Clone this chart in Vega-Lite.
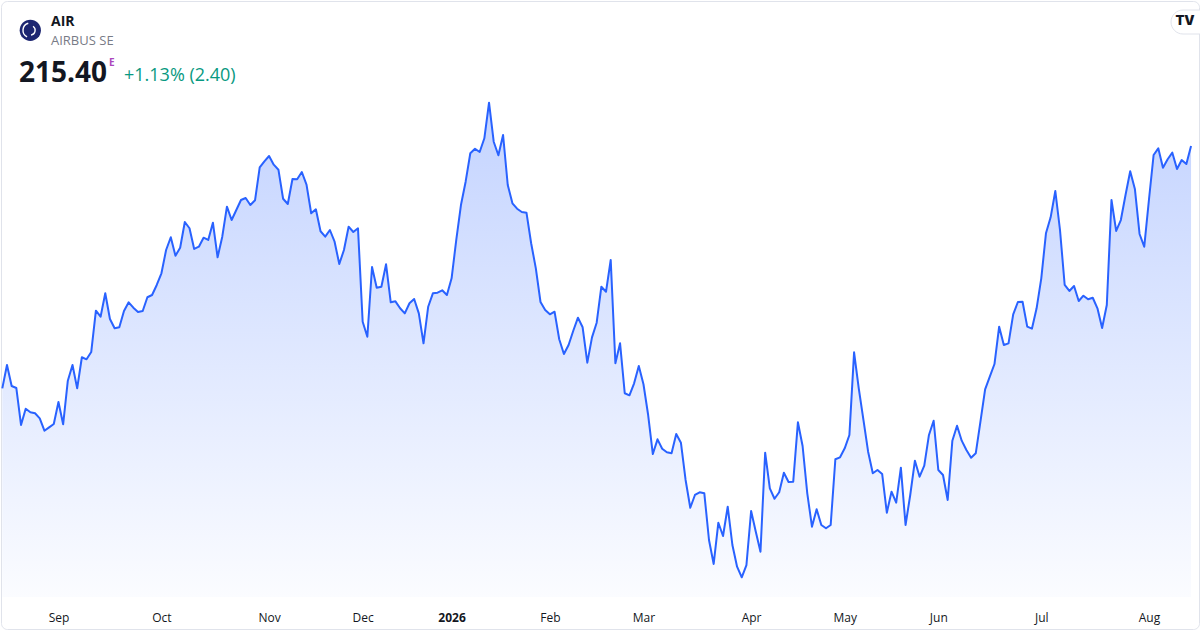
{
  "$schema": "https://vega.github.io/schema/vega-lite/v6.json",
  "width": 1198,
  "height": 628,
  "autosize": {"type": "none"},
  "padding": {"left": 1, "top": 1, "right": 1, "bottom": 1},
  "background": "#ffffff",
  "config": {
    "font": "Open Sans",
    "view": {"stroke": "#e0e3eb", "strokeWidth": 1, "cornerRadius": 6}
  },
  "datasets": {
    "air": [
      {"i":0,"close":183.09},{"i":1,"close":186.20},{"i":2,"close":183.40},{"i":3,"close":183.13},{"i":4,"close":178.20},
      {"i":5,"close":180.37},{"i":6,"close":179.89},{"i":7,"close":179.76},{"i":8,"close":179.09},{"i":9,"close":177.44},
      {"i":10,"close":177.89},{"i":11,"close":178.33},{"i":12,"close":181.27},{"i":13,"close":178.29},{"i":14,"close":184.11},
      {"i":15,"close":186.20},{"i":16,"close":183.09},{"i":17,"close":187.23},{"i":18,"close":186.96},{"i":19,"close":187.93},
      {"i":20,"close":193.44},{"i":21,"close":192.64},{"i":22,"close":195.76},{"i":23,"close":192.33},{"i":24,"close":191.09},
      {"i":25,"close":191.23},{"i":26,"close":193.40},{"i":27,"close":194.56},{"i":28,"close":193.84},{"i":29,"close":193.27},
      {"i":30,"close":193.40},{"i":31,"close":195.23},{"i":32,"close":195.53},{"i":33,"close":196.87},{"i":34,"close":198.43},
      {"i":35,"close":201.53},{"i":36,"close":203.23},{"i":37,"close":200.77},{"i":38,"close":201.84},{"i":39,"close":205.27},
      {"i":40,"close":204.43},{"i":41,"close":201.67},{"i":42,"close":201.97},{"i":43,"close":203.17},{"i":44,"close":202.87},
      {"i":45,"close":205.17},{"i":46,"close":200.56},{"i":47,"close":203.31},{"i":48,"close":207.31},{"i":49,"close":205.53},
      {"i":50,"close":206.87},{"i":51,"close":208.20},{"i":52,"close":208.47},{"i":53,"close":207.53},{"i":54,"close":208.16},
      {"i":55,"close":212.56},{"i":56,"close":213.36},{"i":57,"close":214.07},{"i":58,"close":212.91},{"i":59,"close":212.24},
      {"i":60,"close":208.37},{"i":61,"close":207.67},{"i":62,"close":211.00},{"i":63,"close":210.96},{"i":64,"close":211.93},
      {"i":65,"close":210.24},{"i":66,"close":206.43},{"i":67,"close":206.96},{"i":68,"close":204.03},{"i":69,"close":203.31},
      {"i":70,"close":204.20},{"i":71,"close":202.64},{"i":72,"close":199.67},{"i":73,"close":201.53},{"i":74,"close":204.64},
      {"i":75,"close":203.93},{"i":76,"close":204.43},{"i":77,"close":191.97},{"i":78,"close":189.97},{"i":79,"close":199.27},
      {"i":80,"close":196.51},{"i":81,"close":196.64},{"i":82,"close":199.63},{"i":83,"close":194.56},{"i":84,"close":194.69},
      {"i":85,"close":193.76},{"i":86,"close":193.09},{"i":87,"close":194.43},{"i":88,"close":195.00},{"i":89,"close":193.09},
      {"i":90,"close":189.09},{"i":91,"close":193.97},{"i":92,"close":195.76},{"i":93,"close":195.84},{"i":94,"close":196.16},
      {"i":95,"close":195.53},{"i":96,"close":197.76},{"i":97,"close":202.87},{"i":98,"close":207.53},{"i":99,"close":210.64},
      {"i":100,"close":214.43},{"i":101,"close":215.04},{"i":102,"close":214.60},{"i":103,"close":216.43},{"i":104,"close":221.17},
      {"i":105,"close":215.97},{"i":106,"close":214.16},{"i":107,"close":216.87},{"i":108,"close":210.20},{"i":109,"close":207.76},
      {"i":110,"close":207.04},{"i":111,"close":206.60},{"i":112,"close":206.51},{"i":113,"close":202.43},{"i":114,"close":199.09},
      {"i":115,"close":194.60},{"i":116,"close":193.53},{"i":117,"close":192.96},{"i":118,"close":193.31},{"i":119,"close":189.63},
      {"i":120,"close":187.67},{"i":121,"close":188.87},{"i":122,"close":190.77},{"i":123,"close":192.51},{"i":124,"close":191.23},
      {"i":125,"close":186.51},{"i":126,"close":189.89},{"i":127,"close":191.84},{"i":128,"close":196.64},{"i":129,"close":195.97},
      {"i":130,"close":200.20},{"i":131,"close":186.43},{"i":132,"close":189.09},{"i":133,"close":182.43},{"i":134,"close":182.16},
      {"i":135,"close":183.76},{"i":136,"close":186.07},{"i":137,"close":183.63},{"i":138,"close":179.53},{"i":139,"close":174.33},
      {"i":140,"close":176.29},{"i":141,"close":175.04},{"i":142,"close":174.56},{"i":143,"close":174.43},{"i":144,"close":177.00},
      {"i":145,"close":175.84},{"i":146,"close":170.87},{"i":147,"close":167.17},{"i":148,"close":168.87},{"i":149,"close":169.23},
      {"i":150,"close":169.09},{"i":151,"close":162.87},{"i":152,"close":159.67},{"i":153,"close":165.17},{"i":154,"close":163.40},
      {"i":155,"close":167.31},{"i":156,"close":162.20},{"i":157,"close":159.31},{"i":158,"close":157.89},{"i":159,"close":159.53},
      {"i":160,"close":166.73},{"i":161,"close":163.97},{"i":162,"close":161.31},{"i":163,"close":174.51},{"i":164,"close":169.76},
      {"i":165,"close":168.37},{"i":166,"close":169.23},{"i":167,"close":171.84},{"i":168,"close":170.60},{"i":169,"close":170.64},
      {"i":170,"close":178.56},{"i":171,"close":175.40},{"i":172,"close":169.09},{"i":173,"close":164.64},{"i":174,"close":166.96},
      {"i":175,"close":164.87},{"i":176,"close":164.43},{"i":177,"close":164.87},{"i":178,"close":173.63},{"i":179,"close":173.89},
      {"i":180,"close":175.09},{"i":181,"close":176.87},{"i":182,"close":187.89},{"i":183,"close":183.09},{"i":184,"close":178.87},
      {"i":185,"close":174.64},{"i":186,"close":171.76},{"i":187,"close":172.20},{"i":188,"close":171.67},{"i":189,"close":166.51},
      {"i":190,"close":169.31},{"i":191,"close":167.84},{"i":192,"close":172.51},{"i":193,"close":164.87},{"i":194,"close":168.87},
      {"i":195,"close":173.44},{"i":196,"close":171.31},{"i":197,"close":172.77},{"i":198,"close":176.87},{"i":199,"close":178.77},
      {"i":200,"close":172.20},{"i":201,"close":171.53},{"i":202,"close":168.20},{"i":203,"close":176.11},{"i":204,"close":178.11},
      {"i":205,"close":176.11},{"i":206,"close":174.87},{"i":207,"close":173.84},{"i":208,"close":174.43},{"i":209,"close":178.64},
      {"i":210,"close":182.96},{"i":211,"close":184.64},{"i":212,"close":186.33},{"i":213,"close":191.31},{"i":214,"close":188.87},
      {"i":215,"close":189.09},{"i":216,"close":192.96},{"i":217,"close":194.60},{"i":218,"close":194.64},{"i":219,"close":191.31},
      {"i":220,"close":191.04},{"i":221,"close":193.76},{"i":222,"close":197.76},{"i":223,"close":203.76},{"i":224,"close":205.89},
      {"i":225,"close":209.40},{"i":226,"close":204.20},{"i":227,"close":196.87},{"i":228,"close":196.07},{"i":229,"close":196.73},
      {"i":230,"close":194.73},{"i":231,"close":195.44},{"i":232,"close":194.96},{"i":233,"close":195.17},{"i":234,"close":193.76},
      {"i":235,"close":191.13},{"i":236,"close":194.20},{"i":237,"close":208.20},{"i":238,"close":204.07},{"i":239,"close":205.53},
      {"i":240,"close":208.87},{"i":241,"close":212.03},{"i":242,"close":209.67},{"i":243,"close":203.67},{"i":244,"close":201.97},
      {"i":245,"close":208.20},{"i":246,"close":214.20},{"i":247,"close":215.09},{"i":248,"close":212.51},{"i":249,"close":213.63},
      {"i":250,"close":214.51},{"i":251,"close":212.33},{"i":252,"close":213.53},{"i":253,"close":213.00},{"i":254,"close":215.40}
    ]
  },
  "layer": [
    {
      "data": {"name": "air"},
      "mark": {
        "type": "area",
        "color": {
          "gradient": "linear",
          "x1": 0, "y1": 0, "x2": 0, "y2": 1,
          "stops": [
            {"offset": 0, "color": "rgba(41,98,255,0.28)"},
            {"offset": 1, "color": "rgba(41,98,255,0.02)"}
          ]
        }
      },
      "encoding": {
        "x": {
          "field": "i",
          "type": "quantitative",
          "scale": {"domain": [-0.278, 255.7], "nice": false, "zero": false},
          "axis": {
            "values": [12, 34, 57, 77, 96, 117, 137, 160, 180, 200, 222, 245],
            "labelExpr": "['Sep','Oct','Nov','Dec','2026','Feb','Mar','Apr','May','Jun','Jul','Aug'][indexof([12,34,57,77,96,117,137,160,180,200,222,245], datum.value)]",
            "title": null,
            "domain": false,
            "ticks": false,
            "grid": false,
            "offset": -29,
            "labelPadding": 12,
            "labelFontSize": 12,
            "labelColor": "#131722",
            "labelFontWeight": {"condition": {"test": "datum.value == 96", "value": "bold"}, "value": "normal"},
            "labelFlush": false,
            "labelOverlap": false
          }
        },
        "y": {
          "field": "close",
          "type": "quantitative",
          "scale": {"domain": [151.0, 234.733], "nice": false, "zero": false},
          "axis": null
        },
        "y2": {"datum": 155.27}
      }
    },
    {
      "data": {"name": "air"},
      "mark": {"type": "line", "color": "#2962ff", "strokeWidth": 2, "strokeJoin": "round"},
      "encoding": {
        "x": {"field": "i", "type": "quantitative"},
        "y": {"field": "close", "type": "quantitative"}
      }
    },
    {
      "data": {"values": [{}]},
      "mark": {"type": "point", "shape": "circle", "filled": true, "size": 452, "color": "#1d2671", "opacity": 1},
      "encoding": {"x": {"value": 29.3}, "y": {"value": 29.3}}
    },
    {
      "data": {"values": [{}]},
      "mark": {"type": "arc", "radius": 8, "radius2": 6.6, "theta": 3.6, "theta2": 6.0, "color": "#ffffff"},
      "encoding": {"x": {"value": 29.3}, "y": {"value": 29.3}}
    },
    {
      "data": {"values": [{}]},
      "mark": {"type": "arc", "radius": 5.5, "radius2": 4.2, "theta": 0.6, "theta2": 3.0, "color": "#ffffff"},
      "encoding": {"x": {"value": 29.3}, "y": {"value": 29.3}}
    },
    {
      "data": {"values": [{}]},
      "mark": {"type": "text", "text": "AIR", "align": "left", "baseline": "alphabetic", "fontSize": 14, "fontWeight": "bold", "color": "#131722"},
      "encoding": {"x": {"value": 50}, "y": {"value": 25}}
    },
    {
      "data": {"values": [{}]},
      "mark": {"type": "text", "text": "AIRBUS SE", "align": "left", "baseline": "alphabetic", "fontSize": 13, "color": "#787b86"},
      "encoding": {"x": {"value": 50}, "y": {"value": 44}}
    },
    {
      "data": {"values": [{}]},
      "mark": {"type": "text", "text": "215.40", "align": "left", "baseline": "alphabetic", "fontSize": 28, "fontWeight": "bold", "color": "#131722"},
      "encoding": {"x": {"value": 18}, "y": {"value": 81}}
    },
    {
      "data": {"values": [{}]},
      "mark": {"type": "text", "text": "E", "align": "left", "baseline": "alphabetic", "fontSize": 10, "fontWeight": "bold", "color": "#ab47bc"},
      "encoding": {"x": {"value": 108}, "y": {"value": 65}}
    },
    {
      "data": {"values": [{}]},
      "mark": {"type": "text", "text": "+1.13% (2.40)", "align": "left", "baseline": "alphabetic", "fontSize": 18, "color": "#089981"},
      "encoding": {"x": {"value": 123}, "y": {"value": 80}}
    },
    {
      "data": {"values": [{}]},
      "mark": {"type": "rect", "color": "#ffffff", "stroke": "#e0e3eb", "strokeWidth": 1, "cornerRadius": 12},
      "encoding": {"x": {"value": 1170}, "x2": {"value": 1215}, "y": {"value": 9}, "y2": {"value": 33}}
    },
    {
      "data": {"values": [{}]},
      "mark": {"type": "text", "text": "TV", "align": "center", "baseline": "middle", "fontSize": 13, "fontWeight": 900, "font": "Inter", "color": "#131722"},
      "encoding": {"x": {"value": 1184}, "y": {"value": 20}}
    }
  ]
}
